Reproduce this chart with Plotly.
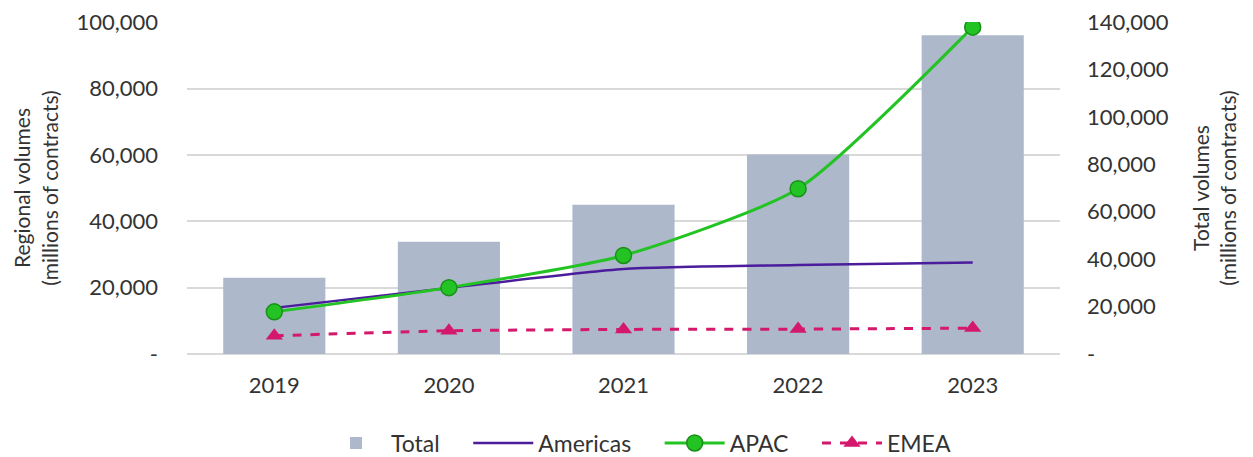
import plotly.graph_objects as go

years = ['2019', '2020', '2021', '2022', '2023']
total = [32200, 47400, 63000, 84200, 134500]
americas = [13900, 19900, 25600, 26800, 27600]
apac = [12700, 20000, 29700, 49800, 98500]
emea = [5500, 7000, 7400, 7500, 7800]

left_ticks = [0, 20000, 40000, 60000, 80000, 100000]
left_text = ['-', '20,000', '40,000', '60,000', '80,000', '100,000']
right_ticks = [0, 20000, 40000, 60000, 80000, 100000, 120000, 140000]
right_text = ['-', '20,000', '40,000', '60,000', '80,000', '100,000', '120,000', '140,000']

font = dict(family='Lato, Open Sans, sans-serif', size=22, color='#333333')
title_font = dict(family='Lato, Open Sans, sans-serif', size=21, color='#333333')
legend_font = dict(family='Lato, Open Sans, sans-serif', size=23, color='#333333')
pad = '\u00a0' * 4

W, H = 1245, 449  # page body adds an 8px margin

fig = go.Figure()

# bars on the primary (right-hand) axis so the lines overlay them
fig.add_trace(go.Bar(x=years, y=total, name='Total' + pad, yaxis='y',
                     marker=dict(color='#adb8ca', line=dict(width=0))))

fig.add_trace(go.Scatter(x=years, y=americas, name='Americas' + pad, mode='lines', yaxis='y2',
                         line=dict(color='#4b1c9c', width=2.5, shape='spline', smoothing=0.6)))

fig.add_trace(go.Scatter(x=years, y=apac, name='APAC' + pad, mode='lines+markers', yaxis='y2',
                         line=dict(color='#22c322', width=3, shape='spline', smoothing=0.6),
                         marker=dict(size=16, color='#22c322',
                                     line=dict(color='#1a8f1a', width=1.5))))

fig.add_trace(go.Scatter(x=years, y=emea, name='EMEA', mode='lines+markers', yaxis='y2',
                         line=dict(color='#d4186c', width=3, dash='dash', shape='spline', smoothing=0.6),
                         marker=dict(symbol='triangle-up', size=15, color='#d4186c')))

fig.update_layout(
    width=W, height=H,
    margin=dict(l=179, r=193, t=14, b=103),
    paper_bgcolor='white', plot_bgcolor='white',
    font=font,
    bargap=0.415,
    showlegend=True,
    legend=dict(orientation='h', x=0.5 + 8 / W, xanchor='center', xref='container',
                y=(H - 435) / H, yanchor='middle', yref='container',
                traceorder='normal', font=legend_font, itemwidth=60),
    xaxis=dict(showgrid=False, showline=False, ticks='', tickfont=font,
               ticklabelstandoff=16, automargin=False),
    yaxis=dict(range=[0, 140070], tickvals=right_ticks, ticktext=right_text,
               side='right', showgrid=False, zeroline=False, automargin=False,
               ticks='', tickfont=font, ticklabelstandoff=26, ticklabeloverflow='allow',
               title=dict(text='Total volumes<br>(millions of contracts)', font=title_font, standoff=26)),
    yaxis2=dict(range=[0, 100050], tickvals=left_ticks, ticktext=left_text,
                overlaying='y', side='left', automargin=False,
                showgrid=True, gridcolor='#d9d9d9', gridwidth=1.5,
                zeroline=True, zerolinecolor='#d9d9d9', zerolinewidth=1.5,
                ticks='', tickfont=font, ticklabelstandoff=28, ticklabeloverflow='allow',
                title=dict(text='Regional volumes<br>(millions of contracts)', font=title_font, standoff=12)),
)

fig.write_html("out.html")
